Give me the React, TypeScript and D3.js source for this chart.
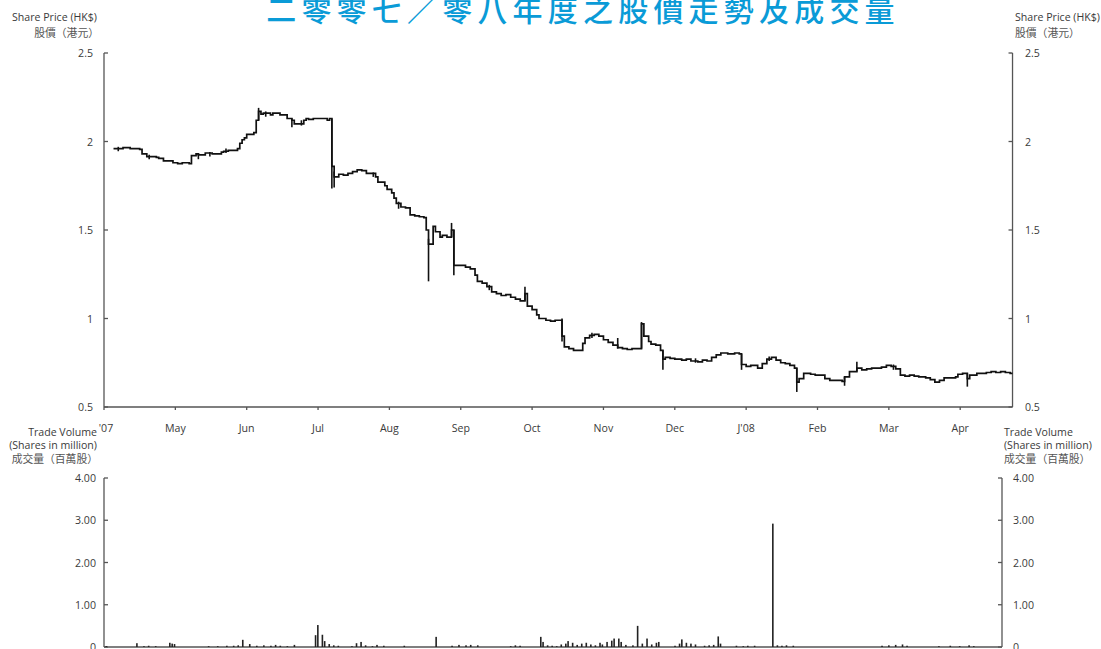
import React from "react";
import * as d3 from "d3";

const TITLE = "二零零七／零八年度之股價走勢及成交量";
const monthLabels = ["'07", "May", "Jun", "Jul", "Aug", "Sep", "Oct", "Nov", "Dec", "J'08", "Feb", "Mar", "Apr"];
const priceTicks = [0.5, 1, 1.5, 2, 2.5];
const volTicks = [0, 1, 2, 3, 4];

// daily closes (step series)
const priceClose: [string, number][] = [
  ["2007-04-05", 1.96], ["2007-04-09", 1.965], ["2007-04-12", 1.96], ["2007-04-16", 1.955], ["2007-04-17", 1.93],
  ["2007-04-19", 1.915], ["2007-04-23", 1.91], ["2007-04-24", 1.905], ["2007-04-26", 1.89], ["2007-04-30", 1.88],
  ["2007-05-02", 1.875], ["2007-05-04", 1.88], ["2007-05-07", 1.875], ["2007-05-08", 1.92], ["2007-05-10", 1.93],
  ["2007-05-11", 1.925], ["2007-05-14", 1.935], ["2007-05-17", 1.93], ["2007-05-21", 1.94], ["2007-05-22", 1.945],
  ["2007-05-24", 1.95], ["2007-05-28", 1.96], ["2007-05-29", 1.99], ["2007-05-30", 2.01], ["2007-05-31", 2.02],
  ["2007-06-01", 2.04], ["2007-06-04", 2.05], ["2007-06-05", 2.12], ["2007-06-06", 2.17], ["2007-06-07", 2.155],
  ["2007-06-08", 2.16], ["2007-06-11", 2.15], ["2007-06-12", 2.16], ["2007-06-14", 2.16], ["2007-06-15", 2.15],
  ["2007-06-18", 2.13], ["2007-06-20", 2.12], ["2007-06-21", 2.1], ["2007-06-25", 2.12], ["2007-06-26", 2.13],
  ["2007-06-27", 2.125], ["2007-06-29", 2.13], ["2007-07-03", 2.13], ["2007-07-05", 2.12], ["2007-07-06", 2.13],
  ["2007-07-07", 1.86], ["2007-07-08", 1.8], ["2007-07-10", 1.815], ["2007-07-12", 1.81], ["2007-07-14", 1.82],
  ["2007-07-16", 1.83], ["2007-07-18", 1.84], ["2007-07-20", 1.835], ["2007-07-22", 1.82], ["2007-07-24", 1.82],
  ["2007-07-26", 1.8], ["2007-07-27", 1.77], ["2007-07-30", 1.75], ["2007-07-31", 1.73], ["2007-08-02", 1.71],
  ["2007-08-03", 1.68], ["2007-08-04", 1.65], ["2007-08-06", 1.63], ["2007-08-08", 1.625], ["2007-08-10", 1.585],
  ["2007-08-12", 1.58], ["2007-08-14", 1.575], ["2007-08-16", 1.57], ["2007-08-17", 1.5], ["2007-08-18", 1.42],
  ["2007-08-20", 1.52], ["2007-08-21", 1.49], ["2007-08-23", 1.46], ["2007-08-24", 1.47], ["2007-08-26", 1.46],
  ["2007-08-28", 1.5], ["2007-08-29", 1.3], ["2007-08-31", 1.3], ["2007-09-01", 1.3], ["2007-09-03", 1.29],
  ["2007-09-05", 1.28], ["2007-09-07", 1.245], ["2007-09-08", 1.21], ["2007-09-10", 1.2], ["2007-09-12", 1.18],
  ["2007-09-14", 1.15], ["2007-09-16", 1.14], ["2007-09-18", 1.13], ["2007-09-20", 1.135], ["2007-09-22", 1.12],
  ["2007-09-24", 1.11], ["2007-09-26", 1.1], ["2007-09-28", 1.14], ["2007-09-29", 1.07], ["2007-10-01", 1.05],
  ["2007-10-03", 1.02], ["2007-10-04", 1.0], ["2007-10-07", 0.99], ["2007-10-09", 0.985], ["2007-10-11", 0.99],
  ["2007-10-14", 0.9], ["2007-10-15", 0.84], ["2007-10-17", 0.83], ["2007-10-19", 0.82], ["2007-10-21", 0.82],
  ["2007-10-23", 0.86], ["2007-10-24", 0.89], ["2007-10-26", 0.905], ["2007-10-28", 0.91], ["2007-10-30", 0.9],
  ["2007-11-01", 0.88], ["2007-11-03", 0.865], ["2007-11-05", 0.85], ["2007-11-07", 0.835], ["2007-11-09", 0.83],
  ["2007-11-11", 0.825], ["2007-11-13", 0.83], ["2007-11-15", 0.83], ["2007-11-17", 0.97], ["2007-11-18", 0.9],
  ["2007-11-20", 0.87], ["2007-11-21", 0.855], ["2007-11-23", 0.85], ["2007-11-25", 0.82], ["2007-11-26", 0.77],
  ["2007-11-27", 0.78], ["2007-11-29", 0.775], ["2007-12-01", 0.77], ["2007-12-04", 0.765], ["2007-12-06", 0.77],
  ["2007-12-08", 0.76], ["2007-12-11", 0.755], ["2007-12-13", 0.765], ["2007-12-15", 0.76], ["2007-12-17", 0.78],
  ["2007-12-19", 0.795], ["2007-12-21", 0.805], ["2007-12-24", 0.8], ["2007-12-27", 0.805], ["2007-12-29", 0.8],
  ["2007-12-30", 0.74], ["2008-01-01", 0.73], ["2008-01-03", 0.735], ["2008-01-06", 0.72], ["2008-01-08", 0.745],
  ["2008-01-10", 0.77], ["2008-01-12", 0.78], ["2008-01-14", 0.765], ["2008-01-16", 0.75], ["2008-01-18", 0.745],
  ["2008-01-20", 0.735], ["2008-01-22", 0.72], ["2008-01-23", 0.64], ["2008-01-24", 0.66], ["2008-01-26", 0.69],
  ["2008-01-29", 0.685], ["2008-01-31", 0.68], ["2008-02-02", 0.68], ["2008-02-04", 0.66], ["2008-02-06", 0.65],
  ["2008-02-08", 0.65], ["2008-02-11", 0.645], ["2008-02-12", 0.67], ["2008-02-14", 0.7], ["2008-02-15", 0.7],
  ["2008-02-17", 0.72], ["2008-02-19", 0.71], ["2008-02-21", 0.715], ["2008-02-23", 0.72], ["2008-02-25", 0.72],
  ["2008-02-27", 0.725], ["2008-02-29", 0.735], ["2008-03-02", 0.73], ["2008-03-04", 0.715], ["2008-03-06", 0.68],
  ["2008-03-08", 0.675], ["2008-03-10", 0.68], ["2008-03-12", 0.675], ["2008-03-14", 0.67], ["2008-03-17", 0.665],
  ["2008-03-19", 0.655], ["2008-03-21", 0.64], ["2008-03-23", 0.65], ["2008-03-25", 0.665], ["2008-03-28", 0.665],
  ["2008-03-30", 0.67], ["2008-03-31", 0.685], ["2008-04-02", 0.69], ["2008-04-04", 0.66], ["2008-04-05", 0.68],
  ["2008-04-08", 0.69], ["2008-04-10", 0.69], ["2008-04-12", 0.695], ["2008-04-14", 0.7], ["2008-04-16", 0.695],
  ["2008-04-18", 0.7], ["2008-04-20", 0.695], ["2008-04-22", 0.69], ["2008-04-23", 0.69],
];

// intraday ranges [date, low, high]
const priceRange: [string, number, number][] = [
  ["2007-04-07", 1.945, 1.97], ["2007-04-20", 1.9, 1.925], ["2007-05-11", 1.9, 1.935], ["2007-05-16", 1.915, 1.94],
  ["2007-05-23", 1.935, 1.96], ["2007-06-06", 2.12, 2.19], ["2007-06-09", 2.14, 2.17], ["2007-06-20", 2.08, 2.13],
  ["2007-06-24", 2.09, 2.12], ["2007-07-07", 1.735, 2.13], ["2007-07-08", 1.74, 1.83], ["2007-07-25", 1.8, 1.825],
  ["2007-08-05", 1.62, 1.66], ["2007-08-18", 1.21, 1.45], ["2007-08-28", 1.46, 1.54], ["2007-08-29", 1.245, 1.5],
  ["2007-09-13", 1.16, 1.19], ["2007-09-28", 1.1, 1.18], ["2007-10-14", 0.87, 1.0], ["2007-10-27", 0.89, 0.92],
  ["2007-11-07", 0.83, 0.89], ["2007-11-17", 0.83, 0.98], ["2007-11-26", 0.71, 0.82], ["2007-12-10", 0.75, 0.775],
  ["2007-12-30", 0.71, 0.8], ["2008-01-11", 0.76, 0.785], ["2008-01-23", 0.585, 0.72], ["2008-02-12", 0.62, 0.67],
  ["2008-02-17", 0.7, 0.756], ["2008-03-03", 0.71, 0.74], ["2008-04-04", 0.615, 0.69],
];

// trade volume, million shares
const volume: [string, number][] = [
  ["2007-04-02", 0.02], ["2007-04-15", 0.09], ["2007-04-18", 0.02], ["2007-04-20", 0.03], ["2007-04-23", 0.02],
  ["2007-04-29", 0.1], ["2007-04-30", 0.08], ["2007-05-01", 0.07], ["2007-05-16", 0.02], ["2007-05-20", 0.02],
  ["2007-05-24", 0.03], ["2007-05-27", 0.03], ["2007-05-29", 0.04], ["2007-05-31", 0.17], ["2007-06-03", 0.07],
  ["2007-06-06", 0.03], ["2007-06-09", 0.04], ["2007-06-12", 0.03], ["2007-06-14", 0.05], ["2007-06-16", 0.03],
  ["2007-06-19", 0.02], ["2007-06-22", 0.05], ["2007-07-01", 0.28], ["2007-07-02", 0.52], ["2007-07-04", 0.29],
  ["2007-07-05", 0.14], ["2007-07-07", 0.07], ["2007-07-09", 0.04], ["2007-07-11", 0.03], ["2007-07-17", 0.02],
  ["2007-07-19", 0.09], ["2007-07-21", 0.12], ["2007-07-23", 0.04], ["2007-07-26", 0.02], ["2007-07-28", 0.05],
  ["2007-07-31", 0.03], ["2007-08-09", 0.03], ["2007-08-23", 0.24], ["2007-08-30", 0.03], ["2007-09-02", 0.05],
  ["2007-09-05", 0.04], ["2007-09-07", 0.05], ["2007-09-10", 0.04], ["2007-09-24", 0.02], ["2007-09-26", 0.04],
  ["2007-09-28", 0.03], ["2007-10-07", 0.24], ["2007-10-08", 0.12], ["2007-10-10", 0.04], ["2007-10-12", 0.03],
  ["2007-10-14", 0.02], ["2007-10-16", 0.06], ["2007-10-18", 0.08], ["2007-10-19", 0.14], ["2007-10-21", 0.1],
  ["2007-10-23", 0.05], ["2007-10-25", 0.08], ["2007-10-27", 0.1], ["2007-10-29", 0.06], ["2007-10-31", 0.04],
  ["2007-11-02", 0.1], ["2007-11-03", 0.06], ["2007-11-05", 0.12], ["2007-11-07", 0.15], ["2007-11-08", 0.2],
  ["2007-11-10", 0.2], ["2007-11-11", 0.12], ["2007-11-13", 0.05], ["2007-11-16", 0.04], ["2007-11-18", 0.5],
  ["2007-11-20", 0.08], ["2007-11-22", 0.2], ["2007-11-24", 0.06], ["2007-11-26", 0.1], ["2007-11-27", 0.12],
  ["2007-12-04", 0.03], ["2007-12-06", 0.08], ["2007-12-07", 0.18], ["2007-12-09", 0.1], ["2007-12-11", 0.08],
  ["2007-12-13", 0.06], ["2007-12-17", 0.03], ["2007-12-19", 0.04], ["2007-12-21", 0.05], ["2007-12-23", 0.25],
  ["2007-12-24", 0.08], ["2007-12-31", 0.03], ["2008-01-03", 0.02], ["2008-01-05", 0.03], ["2008-01-08", 0.03],
  ["2008-01-16", 2.92], ["2008-01-18", 0.04], ["2008-01-20", 0.03], ["2008-01-22", 0.04], ["2008-01-25", 0.03],
  ["2008-03-02", 0.03], ["2008-03-05", 0.04], ["2008-03-08", 0.05], ["2008-03-11", 0.06], ["2008-03-13", 0.03],
  ["2008-03-27", 0.02], ["2008-04-01", 0.03], ["2008-04-05", 0.02], ["2008-04-09", 0.04], ["2008-04-11", 0.02],
];

const parse = d3.timeParse("%Y-%m-%d");
const monthStarts = d3.range(14).map((i) => new Date(2007, 3 + i, 1));
const LEFT = 104;
const MONTH_W = 71.35;
const END_DATE = new Date(2008, 3, 23);

export default function App() {
  const x = d3.scaleTime().domain(monthStarts).range(monthStarts.map((_, i) => LEFT + i * MONTH_W));
  const xEnd = x(END_DATE);
  const volRight = 1002;
  const xv = (d: Date) => LEFT + ((x(d) - LEFT) * (volRight - LEFT)) / (xEnd - LEFT);
  const y = d3.scaleLinear().domain([0.5, 2.5]).range([407, 53]);
  const yv = d3.scaleLinear().domain([0, 4]).range([647, 478]);

  const line = d3
    .line<[string, number]>()
    .x((d) => x(parse(d[0])!))
    .y((d) => y(d[1]))
    .curve(d3.curveStepAfter);

  const axisColor = "#555";
  const txt = "#3a3a3a";
  const font = "'Open Sans', 'Noto Sans', sans-serif";
  const cjk = "'Noto Sans CJK TC', 'Noto Sans CJK SC', sans-serif";
  const fs = 10.6;

  return (
    <svg width={1101} height={649} style={{ position: "absolute", left: 0, top: 0, background: "#fff" }}>
      <text x={583} y={21} textAnchor="middle" fill="#0a9bd7" fontSize={30} fontWeight={500}
        fontFamily={cjk} letterSpacing={5.2}>{TITLE}</text>

      {/* price axis titles */}
      <g fontFamily={font} fontSize={fs} fill={txt}>
        <text x={97} y={21} textAnchor="end">Share Price (HK$)</text>
        <text x={1015} y={21}>Share Price (HK$)</text>
      </g>
      <g fontFamily={cjk} fontSize={10.8} fill="#555">
        <text x={99} y={37} textAnchor="end">股價（港元）</text>
        <text x={1015} y={37}>股價（港元）</text>
      </g>

      {/* price axes */}
      <g stroke={axisColor} strokeWidth={1.3} fill="none">
        <line x1={LEFT} x2={LEFT} y1={y(2.5)} y2={y(0.5)} />
        <line x1={xEnd} x2={xEnd} y1={y(2.5)} y2={y(0.5)} />
        <line x1={LEFT} x2={xEnd} y1={y(0.5)} y2={y(0.5)} />
        {priceTicks.map((t) => (
          <g key={t}>
            <line x1={LEFT} x2={LEFT + 4} y1={y(t)} y2={y(t)} />
            <line x1={xEnd - 4} x2={xEnd} y1={y(t)} y2={y(t)} />
          </g>
        ))}
        {monthStarts.slice(0, 13).map((m, i) => (
          <line key={i} x1={x(m)} x2={x(m)} y1={y(0.5)} y2={y(0.5) + 3} />
        ))}
      </g>
      <g fontFamily={font} fontSize={fs} fill={txt}>
        {priceTicks.map((t) => (
          <g key={t}>
            <text x={93} y={y(t) + 4} textAnchor="end">{t}</text>
            <text x={1025} y={y(t) + 4}>{t}</text>
          </g>
        ))}
        {monthStarts.slice(0, 13).map((m, i) => (
          <text key={i} x={x(m) + (i === 0 ? 2 : 0)} y={432} textAnchor="middle">{monthLabels[i]}</text>
        ))}
      </g>

      {/* price series */}
      <path d={line(priceClose) || ""} fill="none" stroke="#111" strokeWidth={1.7} />
      <g stroke="#111" strokeWidth={1.6}>
        {priceRange.map((r, i) => {
          const px = x(parse(r[0])!);
          return <line key={i} x1={px} x2={px} y1={y(r[1])} y2={y(r[2])} />;
        })}
      </g>

      {/* volume titles */}
      <g fontFamily={font} fontSize={fs} fill={txt}>
        <text x={97} y={436} textAnchor="end">Trade Volume</text>
        <text x={97} y={449} textAnchor="end">(Shares in million)</text>
        <text x={1004} y={436}>Trade Volume</text>
        <text x={1004} y={449}>(Shares in million)</text>
      </g>
      <g fontFamily={cjk} fontSize={10.8} fill="#555">
        <text x={98} y={463} textAnchor="end">成交量（百萬股）</text>
        <text x={1004} y={463}>成交量（百萬股）</text>
      </g>

      {/* volume axes */}
      <g stroke={axisColor} strokeWidth={1.3} fill="none">
        <line x1={LEFT} x2={LEFT} y1={yv(4)} y2={yv(0)} />
        <line x1={volRight} x2={volRight} y1={yv(4)} y2={yv(0)} />
        <line x1={LEFT} x2={volRight} y1={yv(0)} y2={yv(0)} />
        {volTicks.map((t) => (
          <g key={t}>
            <line x1={LEFT} x2={LEFT + 4} y1={yv(t)} y2={yv(t)} />
            <line x1={volRight - 4} x2={volRight} y1={yv(t)} y2={yv(t)} />
          </g>
        ))}
      </g>
      <g fontFamily={font} fontSize={fs} fill={txt}>
        {volTicks.map((t) => (
          <g key={t}>
            <text x={96} y={yv(t) + 4} textAnchor="end">{t === 0 ? "0" : t.toFixed(2)}</text>
            <text x={1013} y={yv(t) + 4}>{t === 0 ? "0" : t.toFixed(2)}</text>
          </g>
        ))}
      </g>
      <g fill="#222">
        {volume.map((v, i) => {
          const vx = xv(parse(v[0])!);
          return <rect key={i} x={vx - 0.8} width={1.6} y={yv(v[1])} height={yv(0) - yv(v[1])} />;
        })}
      </g>
    </svg>
  );
}
